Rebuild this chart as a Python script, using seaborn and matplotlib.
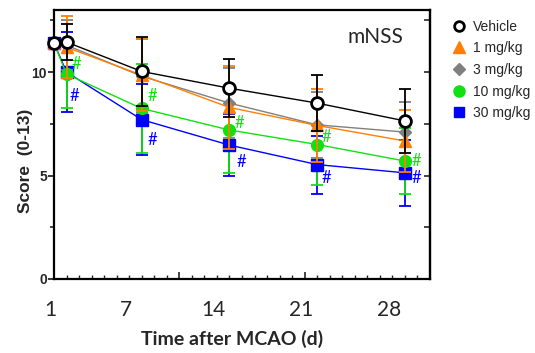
import matplotlib
matplotlib.use("Agg")
import matplotlib.pyplot as plt
import seaborn as sns
import numpy as np
import pandas as pd
from matplotlib.lines import Line2D
from matplotlib.ticker import MultipleLocator, FixedLocator

# ---------------- data ----------------
days = [0, 1, 7, 14, 21, 28]
groups = ["Vehicle", "1 mg/kg", "3 mg/kg", "10 mg/kg", "30 mg/kg"]
vehicle = [11.4, 11.45, 10.03, 9.22, 8.5, 7.64]
mg1 = [11.4, 11.2, 9.85, 8.29, 7.42, 6.67]
mg3 = [11.4, 11.3, 9.8, 8.5, 7.45, 7.1]
mg10 = [11.4, 9.9, 8.24, 7.2, 6.5, 5.7]
mg30 = [11.4, 10.0, 7.7, 6.47, 5.53, 5.13]
sem_vehicle = [0, 0.85, 1.65, 1.4, 1.35, 1.55]
sem_mg1 = [0, 1.5, 1.75, 2.0, 1.75, 1.5]
sem_mg3 = [0, 1.2, 1.8, 1.7, 1.6, 1.45]
sem_mg10 = [0, 1.65, 2.15, 2.1, 1.95, 1.6]
sem_mg30 = [0, 1.95, 1.7, 1.5, 1.4, 1.6]
tick_labels = ["1", "7", "14", "21", "28"]
tick_label_days = [1, 7, 14, 21, 28]
sig_days = [1, 7, 14, 21, 28]   # '#' marks for 10 and 30 mg/kg

values = [vehicle, mg1, mg3, mg10, mg30]
sems = [sem_vehicle, sem_mg1, sem_mg3, sem_mg10, sem_mg30]

rows = []
for g, v, s in zip(groups, values, sems):
    for d, val, e in zip(days, v, s):
        rows.append({"group": g, "day": d, "score": val, "sem": e})
df = pd.DataFrame(rows)

# ---------------- style ----------------
colors = {"Vehicle": "black", "1 mg/kg": "#FF7F00", "3 mg/kg": "#808080",
          "10 mg/kg": "#11E011", "30 mg/kg": "#0000FF"}
markers = {"Vehicle": "o", "1 mg/kg": "^", "3 mg/kg": "D",
           "10 mg/kg": "o", "30 mg/kg": "s"}
msizes = {"Vehicle": 8.5, "1 mg/kg": 8.5, "3 mg/kg": 6.5, "10 mg/kg": 8.5, "30 mg/kg": 8}
zorders = {"Vehicle": 10, "1 mg/kg": 8, "3 mg/kg": 7, "10 mg/kg": 6, "30 mg/kg": 5}

sns.set_theme(style="white")
plt.rcParams["font.family"] = ["Liberation Sans", "DejaVu Sans"]

fig = plt.figure(figsize=(5.35, 3.53), dpi=100)
ax = fig.add_axes([54/535, 1-279/353, 376/535, 269/353])

draw_order = ["30 mg/kg", "10 mg/kg", "3 mg/kg", "1 mg/kg", "Vehicle"]
for g in draw_order:
    sub = df[df["group"] == g]
    c = colors[g]
    ax.errorbar(sub["day"], sub["score"], yerr=sub["sem"], fmt="none",
                ecolor=c, elinewidth=1.3, capsize=4, capthick=1.3,
                zorder=zorders[g] - 1, clip_on=False)
    sns.lineplot(data=sub, x="day", y="score", color=c, lw=1.0, ax=ax,
                 legend=False, zorder=zorders[g])
    if g == "Vehicle":
        ax.plot(sub["day"], sub["score"], ls="none", marker="o", ms=msizes[g],
                mfc="white", mec="black", mew=2.0, zorder=zorders[g] + 1, clip_on=False)
    else:
        ax.plot(sub["day"], sub["score"], ls="none", marker=markers[g], ms=msizes[g],
                mfc=c, mec=c, zorder=zorders[g] + 1, clip_on=False)

# significance marks
green_off = [(10, 10), (11, 12), (10, 7), (9, 8), (11, 0)]
blue_off = [(8, -24), (11, -20), (12, -17), (9, -13), (11, -5)]
for i, d in enumerate(sig_days):
    y10 = mg10[days.index(d)]
    y30 = mg30[days.index(d)]
    ax.annotate("#", (d, y10), xytext=green_off[i], textcoords="offset pixels",
                color=colors["10 mg/kg"], fontsize=12, ha="center", va="center",
                family="Lato", zorder=20)
    ax.annotate("#", (d, y30), xytext=blue_off[i], textcoords="offset pixels",
                color=colors["30 mg/kg"], fontsize=12, ha="center", va="center",
                family="Lato", zorder=20)

ax.set_xlim(0, 30)
ax.set_ylim(0, 13)

for sp in ax.spines.values():
    sp.set_linewidth(1.6)
    sp.set_color("black")

# y ticks
ax.yaxis.set_major_locator(FixedLocator([0, 5, 10]))
ax.yaxis.set_minor_locator(FixedLocator([2.5, 7.5, 12.5]))
ax.tick_params(axis="y", which="major", direction="out", length=4, width=1.3,
               left=True, pad=1, labelsize=10)
ax.tick_params(axis="y", which="minor", direction="out", length=3, width=1.2, left=True)
for lab in ax.get_yticklabels():
    lab.set_fontweight("bold")
sec = ax.secondary_yaxis("right")
sec.yaxis.set_major_locator(FixedLocator([0, 2.5, 5, 7.5, 10, 12.5]))
sec.tick_params(direction="in", length=4, width=1.2, labelright=False)
sec.spines["right"].set_linewidth(1.6)

# x ticks
ax.xaxis.set_major_locator(FixedLocator([0, 10, 20, 30]))
ax.xaxis.set_minor_locator(MultipleLocator(1))
ax.tick_params(axis="x", which="major", direction="in", length=5, width=1.2,
               bottom=True, labelbottom=False)
ax.tick_params(axis="x", which="minor", direction="in", length=3, width=1.0, bottom=True)

for d, t in zip(tick_label_days, tick_labels):
    ax.text(d - 1.3, -0.115, t, transform=ax.get_xaxis_transform(),
            ha="center", va="center", fontsize=15, family="Lato")

ax.set_xlabel("Time after MCAO (d)", fontsize=14, fontweight="bold", family="Lato")
ax.xaxis.set_label_coords(0.473, -0.19)
ax.set_ylabel("Score  (0-13)", fontsize=12.5, fontweight="bold")
ax.yaxis.set_label_coords(-0.055, 0.44)

ax.text(0.854, 0.90, "mNSS", transform=ax.transAxes, ha="center", va="center",
        fontsize=15, family="Lato")

handles = []
for g in groups:
    if g == "Vehicle":
        h = Line2D([], [], ls="none", marker="o", ms=7, mfc="white", mec="black", mew=2.0)
    else:
        h = Line2D([], [], ls="none", marker=markers[g], ms=msizes[g] - 0.5,
                   mfc=colors[g], mec=colors[g])
    handles.append(h)
ax.legend(handles, groups, loc="upper left", bbox_to_anchor=(1.045, 0.985),
          frameon=False, fontsize=10, handlelength=1.0, handletextpad=0.5,
          labelspacing=0.55, borderaxespad=0)

fig.savefig("out.png", dpi=100)
